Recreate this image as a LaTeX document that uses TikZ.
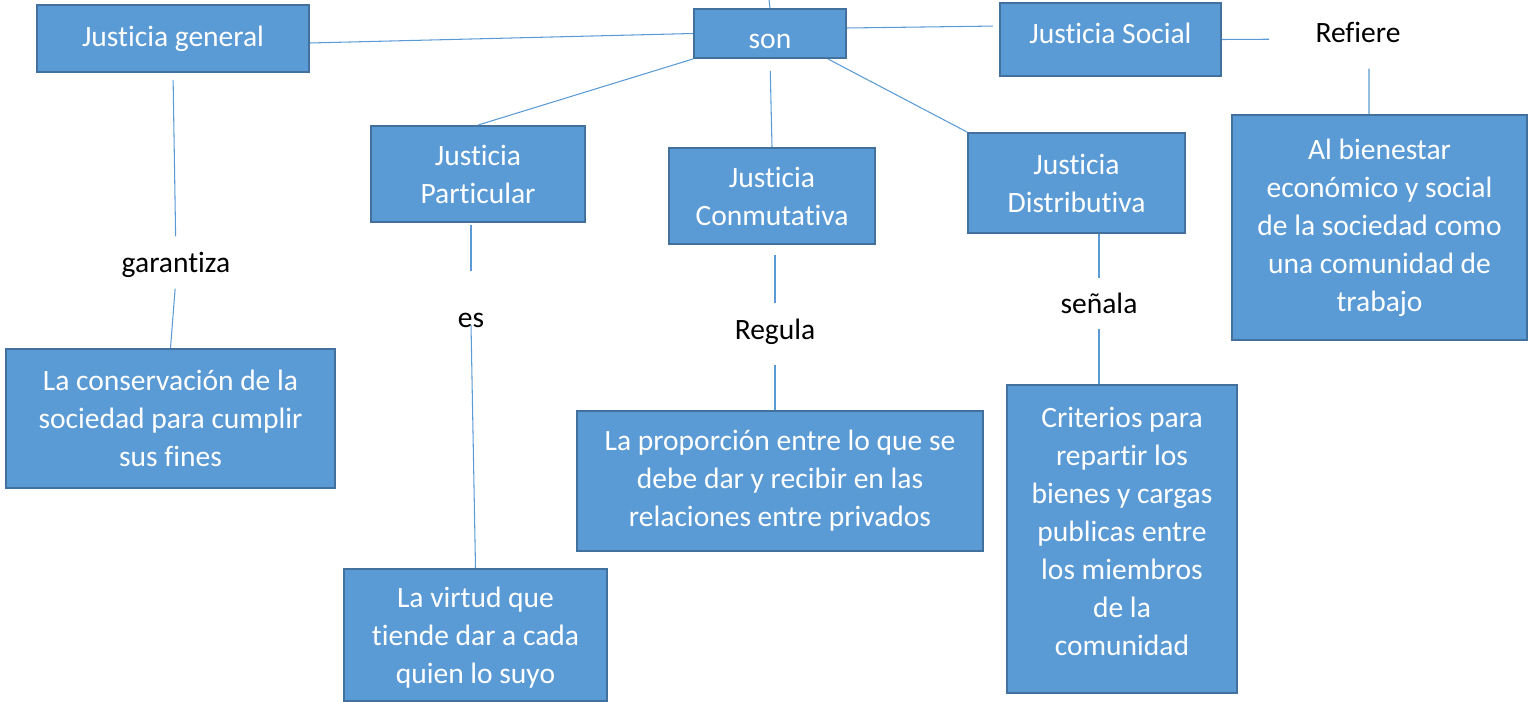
\documentclass[tikz,border=0pt]{standalone}
\usepackage{fontspec}
\setmainfont{Carlito}[Ligatures={NoCommon,NoRare,NoContextual}]
\definecolor{cajaazul}{HTML}{5B9BD5}
\definecolor{bordeazul}{HTML}{41719C}
\begin{document}
\begin{tikzpicture}[x=0.02cm, y=-0.02cm, font=\fontsize{16.8}{21.6}\selectfont,
	caja/.style={draw=bordeazul, fill=cajaazul, line width=1.1pt, text=white, align=center, inner sep=0pt},
	etiqueta/.style={inner sep=0pt, text height=0.7em, text depth=0.25em},
	conn/.style={draw=cajaazul, line width=0.6pt}]
	
	\useasboundingbox (0,0) rectangle (1530,702);
	
	% Primera fila
	\coordinate (arriba) at (769,0);
	\node[caja, minimum width=3.04cm, minimum height=0.98cm, text height=17pt, text depth=0pt] (son) at (770,33.5) {son};
	\node[caja, minimum width=5.44cm, minimum height=1.34cm] (general) at (173,38.5) {Justicia general};
	\node[caja, minimum width=4.42cm, minimum height=1.46cm, text depth=7pt] (social) at (1110.5,39.5) {Justicia Social};
	\node[etiqueta] (refiere) at (1358,39) {Refiere};
	
	% Segunda fila
	\node[caja, minimum width=4.28cm, minimum height=1.92cm] (particular) at (478,174) {Justicia\\Particular};
	\node[caja, minimum width=4.12cm, minimum height=1.92cm] (conmutativa) at (772,196) {Justicia\\Conmutativa};
	\node[caja, minimum width=4.34cm, minimum height=2.00cm] (distributiva) at (1076.5,183) {Justicia\\Distributiva};
	\node[caja, minimum width=5.90cm, minimum height=4.50cm] (bienestar) at (1379.5,227.5) {Al bienestar\\econ\'omico y social\\de la sociedad como\\una comunidad de\\trabajo};
	
	% Verbos
	\node[etiqueta] (garantiza) at (176,269) {garantiza};
	\node[etiqueta] (es) at (471,324) {es};
	\node[etiqueta] (regula) at (775,336) {Regula};
	\node[etiqueta] (senala) at (1099,310) {señala};
	
	% Definiciones
	\node[caja, minimum width=6.58cm, minimum height=2.78cm] (conservacion) at (170.5,418.5) {La conservación de la\\sociedad para cumplir\\sus fines};
	\node[caja, minimum width=5.26cm, minimum height=2.64cm, text depth=0pt] (virtud) at (475.5,635) {La virtud que\\tiende dar a cada\\quien lo suyo};
	\node[caja, minimum width=8.12cm, minimum height=2.80cm] (proporcion) at (780,481) {La proporción entre lo que se\\debe dar y recibir en las\\relaciones entre privados};
	\node[caja, minimum width=4.60cm, minimum height=6.16cm, text depth=8.5pt] (criterios) at (1122,539) {Criterios para\\repartir los\\bienes y cargas\\publicas entre\\los miembros\\de la\\comunidad};
	
	% Conectores desde son
	\draw[conn] (arriba) -- (son.north);
	\draw[conn] (son.west) -- ([yshift=-0.09cm]general.east);
	\draw[conn, shorten >=0.12cm] ([yshift=0.11cm]son.east) -- ([yshift=0.27cm]social.west);
	\draw[conn] (son.south west) -- (particular.north);
	\draw[conn, shorten <=0.24cm] (son.south) -- (conmutativa.north);
	\draw[conn] ([xshift=-0.38cm]son.south east) -- (distributiva.north west);
	
	% Conectores a los verbos
	\draw[conn, shorten <=0.14cm, shorten >=0.48cm] (general.south) -- (garantiza.north);
	\draw[conn, shorten <=0.22cm] (garantiza.south) -- (conservacion.north);
	\draw[conn, shorten <=0.04cm, shorten >=0.88cm] (es.north |- particular.south) -- (es.north);
	\draw[conn, shorten <=0.02cm] (es.center) -- (virtud.north);
	\draw[conn, shorten <=0.2cm, shorten >=0.48cm] (regula.north |- conmutativa.south) -- (regula.north);
	\draw[conn, shorten <=0.4cm] (regula.south) -- (regula.south |- proporcion.north);
	\draw[conn, shorten >=0.46cm] (senala.north |- distributiva.south) -- (senala.north);
	\draw[conn, shorten <=0.2cm] (senala.south) -- (senala.south |- criterios.north);
	\draw[conn, shorten >=0.92cm] (social.east) -- (refiere.west);
	\draw[conn, shorten <=0.42cm] ([xshift=0.22cm]refiere.south) -- ([xshift=-0.21cm]bienestar.north);
\end{tikzpicture}
\end{document}
